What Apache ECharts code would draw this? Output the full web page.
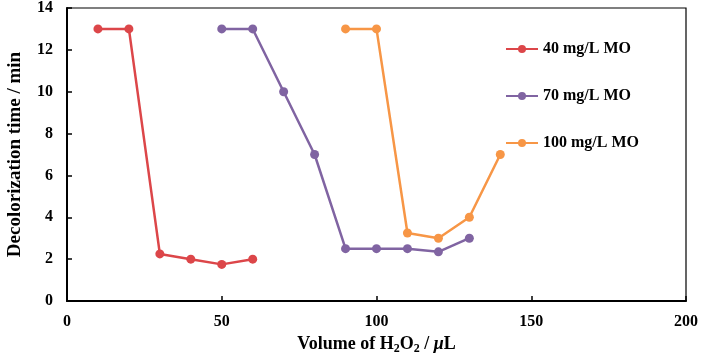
<!DOCTYPE html>
<html>
<head>
<meta charset="utf-8">
<script src="https://cdn.jsdelivr.net/npm/echarts@6/dist/echarts.min.js"></script>
<style>
  html, body { margin: 0; padding: 0; background: #fff; }
  #chart { width: 706px; height: 356px; }
</style>
</head>
<body>
<div id="chart"></div>
<script>
// data
var names = ['40 mg/L MO', '70 mg/L MO', '100 mg/L MO']
var colors = ['#dc4649', '#8064a2', '#f79646']

var x40 = [10, 20, 30, 40, 50, 60]
var y40 = [13, 13, 2.25, 2, 1.75, 2]

var x70 = [50, 60, 70, 80, 90, 100, 110, 120, 130]
var y70 = [13, 13, 10, 7, 2.5, 2.5, 2.5, 2.35, 3]

var x100 = [90, 100, 110, 120, 130, 140]
var y100 = [13, 13, 3.25, 3, 4, 7]

function pairs(xs, ys) {
  var out = []
  for (var i = 0; i < xs.length; i++) out.push([xs[i], ys[i]])
  return out
}

var font = 'Liberation Serif, Times New Roman, serif'

function line(i, data) {
  return {
    name: names[i],
    type: 'line',
    data: data,
    symbol: 'circle',
    symbolSize: 9,
    color: colors[i],
    lineStyle: { width: 2.5, color: colors[i] },
    itemStyle: { color: colors[i] }
  }
}

var chart = echarts.init(document.getElementById('chart'))

var option = {
  animation: false,
  backgroundColor: '#fff',
  grid: {
    left: 67, right: 20, top: 8, bottom: 55,
    outerBoundsMode: 'none',
    containLabel: false,
    show: true, borderColor: '#000', borderWidth: 1.2
  },
  legend: {
    orient: 'vertical',
    left: 500,
    top: 36,
    itemGap: 31,
    itemWidth: 32,
    itemHeight: 10,
    data: names,
    textStyle: { fontFamily: font, fontWeight: 'bold', fontSize: 16, color: '#000' }
  },
  xAxis: {
    type: 'value',
    min: 0, max: 200, interval: 50,
    splitLine: { show: false },
    axisLine: { lineStyle: { color: '#000', width: 2 } },
    axisTick: { inside: true, length: 5, lineStyle: { color: '#000', width: 1.5 } },
    axisLabel: { margin: 13, fontFamily: font, fontWeight: 'bold', fontSize: 16, color: '#000' },
    name: 'Volume of H{sub|2}O{sub|2} / {it|μ}L',
    nameLocation: 'middle',
    nameGap: 33,
    nameTextStyle: {
      fontFamily: font, fontWeight: 'bold', fontSize: 18, color: '#000',
      rich: {
        sub: { fontFamily: font, fontWeight: 'bold', fontSize: 12, color: '#000', verticalAlign: 'bottom', padding: [9, 0, 0, 0] },
        it: { fontFamily: font, fontWeight: 'bold', fontStyle: 'italic', fontSize: 18, color: '#000' }
      }
    }
  },
  yAxis: {
    type: 'value',
    min: 0, max: 14, interval: 2,
    splitLine: { show: false },
    axisLine: { lineStyle: { color: '#000', width: 2 } },
    axisTick: { inside: true, length: 5, lineStyle: { color: '#000', width: 1.5 } },
    axisLabel: { margin: 14, fontFamily: font, fontWeight: 'bold', fontSize: 16, color: '#000' },
    name: 'Decolorization time / min',
    nameLocation: 'middle',
    nameRotate: 90,
    nameGap: 42,
    nameTextStyle: { fontFamily: font, fontWeight: 'bold', fontSize: 19, color: '#000' }
  },
  series: [
    line(0, pairs(x40, y40)),
    line(1, pairs(x70, y70)),
    line(2, pairs(x100, y100))
  ]
}

chart.setOption(option)
</script>
</body>
</html>
